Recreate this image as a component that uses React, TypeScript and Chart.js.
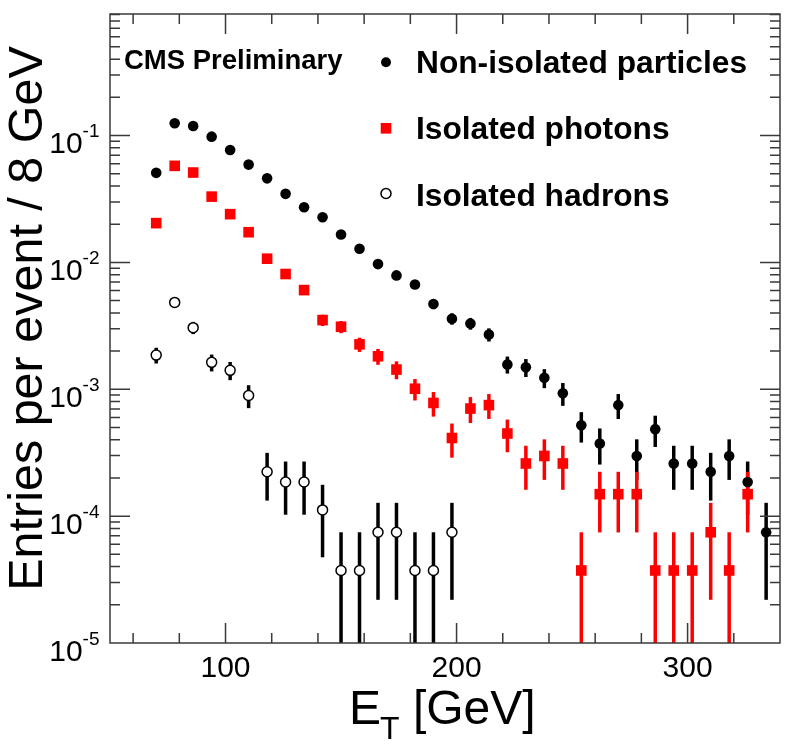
import React, { useEffect, useRef } from 'react';
import { Chart, registerables } from 'chart.js';

Chart.register(...registerables);

// ---- data ----
const binCenters = [70, 78, 86, 94, 102, 110, 118, 126, 134, 142, 150, 158, 166, 174, 182, 190, 198, 206, 214, 222, 230, 238, 246, 254, 262, 270, 278, 286, 294, 302, 310, 318, 326, 334];

const nonIsolated = [0.0508, 0.125, 0.119, 0.098, 0.077, 0.059, 0.046, 0.0347, 0.0272, 0.0227, 0.0166, 0.0128, 0.0097, 0.0079, 0.0067, 0.0047, 0.0036, 0.0033, 0.0027, 0.00157, 0.00149, 0.00123, 0.00093, 0.00052, 0.000373, 0.00075, 0.000298, 0.000485, 0.00026, 0.00026, 0.000224, 0.000298, 0.000186, 0.0000746];
const nonIsolatedErr = [0.00138, 0.00216, 0.00211, 0.00191, 0.00169, 0.00148, 0.00131, 0.00114, 0.00101, 0.00092, 0.00079, 0.00069, 0.0006, 0.00054, 0.0005, 0.00042, 0.00037, 0.00035, 0.00032, 0.00024, 0.00024, 0.00021, 0.00019, 0.00014, 0.000118, 0.000167, 0.000105, 0.000134, 0.0000987, 0.0000987, 0.0000914, 0.000105, 0.0000834, 0.0000527];

const isoPhotons = [0.0204, 0.0577, 0.0511, 0.033, 0.024, 0.0173, 0.0107, 0.0081, 0.00605, 0.00351, 0.00311, 0.00226, 0.00182, 0.00143, 0.00101, 0.00078, 0.000413, 0.000705, 0.00075, 0.000448, 0.00026, 0.000298, 0.00026, 0.0000373, 0.000149, 0.000149, 0.000149, 0.0000373, 0.0000373, 0.0000373, 0.0000746, 0.0000373, 0.000149, null];
const isoPhotonsErr = [0.00087, 0.00147, 0.00138, 0.00111, 0.00095, 0.0008, 0.00063, 0.00055, 0.00047, 0.00036, 0.00034, 0.00029, 0.00026, 0.00023, 0.000194, 0.000171, 0.000124, 0.000163, 0.000167, 0.000129, 0.0000987, 0.000105, 0.0000987, 0.0000373, 0.0000746, 0.0000746, 0.0000746, 0.0000373, 0.0000373, 0.0000373, 0.0000527, 0.0000373, 0.0000746, null];

const isoHadrons = [0.00186, 0.00484, 0.00306, 0.00163, 0.00141, 0.000893, 0.000224, 0.000186, 0.000186, 0.000112, 0.0000373, 0.0000373, 0.0000746, 0.0000746, 0.0000373, 0.0000373, 0.0000746, null, null, null, null, null, null, null, null, null, null, null, null, null, null, null, null, null];
const isoHadronsErr = [0.000264, 0.000425, 0.000338, 0.000247, 0.00023, 0.000183, 0.0000914, 0.0000834, 0.0000834, 0.0000646, 0.0000373, 0.0000373, 0.0000527, 0.0000527, 0.0000373, 0.0000373, 0.0000527, null, null, null, null, null, null, null, null, null, null, null, null, null, null, null, null, null];

const seriesNames = ['Non-isolated particles', 'Isolated photons', 'Isolated hadrons'];
const xMajorTicks = [100, 200, 300];
const xMinorTicks = [60, 80, 120, 140, 160, 180, 220, 240, 260, 280, 320];
const yDecadeExponents = [-5, -4, -3, -2, -1];
const xRange = [50, 340];
const yRange = [1e-5, 0.908];

const FONT = '"Liberation Sans", Arial, Helvetica, sans-serif';
const AXIS_COLOR = '#3a3a3a';

function toPoints(vals: (number | null)[], errs: (number | null)[]) {
  const out: { x: number; y: number; e: number }[] = [];
  vals.forEach((v, i) => {
    if (v != null) out.push({ x: binCenters[i], y: v, e: errs[i] ?? 0 });
  });
  return out;
}

const errorBarPlugin = {
  id: 'errorBars',
  beforeDatasetsDraw(chart: any) {
    const { ctx, chartArea, scales } = chart;
    const xs = scales.x;
    const ys = scales.y;
    ctx.save();
    ctx.beginPath();
    ctx.rect(chartArea.left, chartArea.top, chartArea.right - chartArea.left, chartArea.bottom - chartArea.top);
    ctx.clip();
    ctx.lineWidth = 3.5;
    ctx.lineCap = 'butt';
    chart.data.datasets.forEach((ds: any) => {
      ctx.strokeStyle = ds.barColor;
      ds.data.forEach((p: any) => {
        if (!p.e) return;
        const px = xs.getPixelForValue(p.x);
        const top = ys.getPixelForValue(p.y + p.e);
        const lo = p.y - p.e;
        const bottom = lo > 0 ? ys.getPixelForValue(lo) : chartArea.bottom + 10;
        ctx.beginPath();
        ctx.moveTo(px, top);
        ctx.lineTo(px, bottom);
        ctx.stroke();
      });
    });
    ctx.restore();
  },
};

const framePlugin = {
  id: 'frame',
  afterDraw(chart: any) {
    const { ctx, chartArea, scales } = chart;
    const xs = scales.x;
    const ys = scales.y;
    const { left, right, top, bottom } = chartArea;
    ctx.save();
    ctx.strokeStyle = AXIS_COLOR;
    ctx.lineWidth = 1.5;
    ctx.strokeRect(left, top, right - left, bottom - top);

    const MAJ = 20;
    const MIN = 10;
    ctx.beginPath();
    const xt = (v: number, len: number) => {
      const px = xs.getPixelForValue(v);
      ctx.moveTo(px, bottom);
      ctx.lineTo(px, bottom - len);
      ctx.moveTo(px, top);
      ctx.lineTo(px, top + len);
    };
    xMajorTicks.forEach((v) => xt(v, MAJ));
    xMinorTicks.forEach((v) => xt(v, MIN));
    const yt = (v: number, len: number) => {
      const py = ys.getPixelForValue(v);
      ctx.moveTo(left, py);
      ctx.lineTo(left + len, py);
      ctx.moveTo(right, py);
      ctx.lineTo(right - len, py);
    };
    yDecadeExponents.forEach((d) => {
      const base = Math.pow(10, d);
      if (base > yRange[0]) yt(base, MAJ);
      for (let m = 2; m <= 9; m++) {
        const v = m * base;
        if (v < yRange[1]) yt(v, MIN);
      }
    });
    ctx.stroke();

    // x tick labels
    ctx.fillStyle = '#000';
    ctx.font = `30px ${FONT}`;
    ctx.textAlign = 'center';
    ctx.textBaseline = 'alphabetic';
    xMajorTicks.forEach((v) => {
      ctx.fillText(String(v), xs.getPixelForValue(v), bottom + 34);
    });

    // y tick labels 10^d
    yDecadeExponents.forEach((d) => {
      const py = ys.getPixelForValue(Math.pow(10, d));
      const sup = String(d);
      ctx.font = `19px ${FONT}`;
      const wSup = ctx.measureText(sup).width;
      ctx.font = `30px ${FONT}`;
      const wMain = ctx.measureText('10').width;
      const xEnd = 99.5;
      ctx.textAlign = 'left';
      ctx.fillText('10', xEnd - wSup - wMain, py + 17.5);
      ctx.font = `19px ${FONT}`;
      ctx.fillText(sup, xEnd - wSup, py + 1.5);
    });

    // x title E_T [GeV]
    ctx.textAlign = 'left';
    ctx.font = `48px ${FONT}`;
    const eX = 349;
    ctx.fillText('E', eX, 723.5);
    const wE = ctx.measureText('E').width;
    ctx.font = `32px ${FONT}`;
    ctx.fillText('T', eX + wE - 1, 738.5);
    const wT = ctx.measureText('T').width;
    ctx.font = `48px ${FONT}`;
    ctx.fillText(' [GeV]', eX + wE - 1 + wT, 723.5);

    // y title
    ctx.save();
    ctx.translate(41.5, 318.5);
    ctx.rotate(-Math.PI / 2);
    ctx.textAlign = 'center';
    ctx.font = `48.5px ${FONT}`;
    ctx.fillText('Entries per event / 8 GeV', 0, 0);
    ctx.restore();

    // CMS Preliminary
    ctx.textAlign = 'left';
    ctx.font = `bold 27.5px ${FONT}`;
    ctx.fillText('CMS Preliminary', 124, 69);

    // legend
    const lx = 386;
    const ly = [62.3, 128.3, 193.5];
    const tb = [72.7, 138.5, 206];
    ctx.font = `bold 31.7px ${FONT}`;
    seriesNames.forEach((name, i) => {
      ctx.fillStyle = '#000';
      ctx.fillText(name, 416, tb[i]);
    });
    ctx.fillStyle = '#000';
    ctx.beginPath();
    ctx.arc(lx, ly[0], 5, 0, Math.PI * 2);
    ctx.fill();
    ctx.fillStyle = '#ff0000';
    ctx.fillRect(lx - 5.3, ly[1] - 5.3, 10.6, 10.6);
    ctx.fillStyle = '#fff';
    ctx.strokeStyle = '#000';
    ctx.lineWidth = 1.5;
    ctx.beginPath();
    ctx.arc(lx, ly[2], 5, 0, Math.PI * 2);
    ctx.fill();
    ctx.stroke();

    ctx.restore();
  },
};

export default function App() {
  const ref = useRef<HTMLCanvasElement>(null);
  useEffect(() => {
    if (!ref.current) return;
    const chart = new Chart(ref.current, {
      type: 'scatter',
      data: {
        datasets: [
          {
            label: seriesNames[0],
            data: toPoints(nonIsolated, nonIsolatedErr),
            pointStyle: 'circle',
            pointRadius: 5.3,
            backgroundColor: '#000',
            borderColor: '#000',
            borderWidth: 0,
            barColor: '#000',
            order: 1,
          } as any,
          {
            label: seriesNames[1],
            data: toPoints(isoPhotons, isoPhotonsErr),
            pointStyle: 'rect',
            pointRadius: 7.5,
            backgroundColor: '#ff0000',
            borderColor: '#ff0000',
            borderWidth: 0,
            barColor: '#ff0000',
            order: 2,
          } as any,
          {
            label: seriesNames[2],
            data: toPoints(isoHadrons, isoHadronsErr),
            pointStyle: 'circle',
            pointRadius: 5,
            backgroundColor: '#fff',
            borderColor: '#000',
            borderWidth: 1.5,
            barColor: '#000',
            order: 0,
          } as any,
        ],
      },
      options: {
        animation: false,
        responsive: false,
        devicePixelRatio: 1,
        events: [],
        layout: { padding: { left: 110, right: 8, top: 14, bottom: 113 } },
        plugins: { legend: { display: false }, tooltip: { enabled: false } },
        scales: {
          x: { type: 'linear', min: xRange[0], max: xRange[1], display: false },
          y: { type: 'logarithmic', min: yRange[0], max: yRange[1], display: false },
        },
      },
      plugins: [errorBarPlugin, framePlugin],
    });
    return () => chart.destroy();
  }, []);
  return (
    <div style={{ position: 'fixed', left: 0, top: 0, width: 788, height: 756, background: '#fff' }}>
      <canvas ref={ref} width={788} height={756} style={{ display: 'block', width: 788, height: 756 }} />
    </div>
  );
}
